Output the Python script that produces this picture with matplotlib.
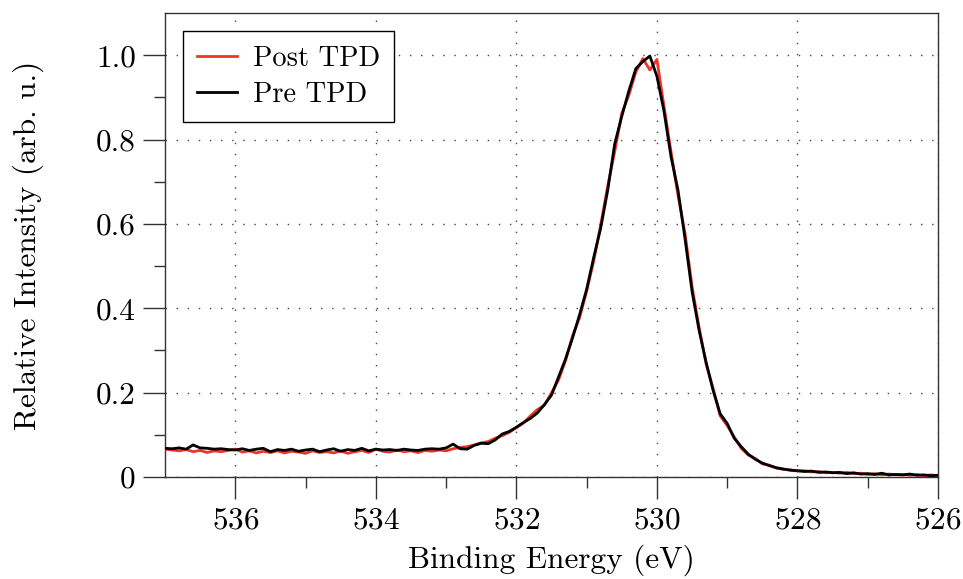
import numpy as np
import matplotlib
matplotlib.use("Agg")
import matplotlib.pyplot as plt
from matplotlib.ticker import FixedLocator, FixedFormatter

plt.rcParams['font.family'] = ['cmr10', 'DejaVu Serif']
plt.rcParams['axes.formatter.use_mathtext'] = True
plt.rcParams['mathtext.fontset'] = 'cm'

# Binding energy grid (eV), 537.0 -> 526.0 in 0.1 eV steps
energy = np.round(np.linspace(537.0, 526.0, 111), 2)

pre_tpd = [
    0.068, 0.067, 0.069, 0.066, 0.076, 0.069, 0.068, 0.066, 0.067, 0.065,
    0.064, 0.067, 0.063, 0.066, 0.068, 0.060, 0.065, 0.063, 0.066, 0.061,
    0.064, 0.066, 0.060, 0.064, 0.067, 0.061, 0.065, 0.063, 0.068, 0.062,
    0.066, 0.064, 0.065, 0.063, 0.066, 0.064, 0.063, 0.066, 0.067, 0.066,
    0.069, 0.078, 0.067, 0.066, 0.075, 0.080, 0.079, 0.088, 0.102, 0.108,
    0.118, 0.129, 0.139, 0.152, 0.172, 0.194, 0.237, 0.280, 0.330, 0.385,
    0.445, 0.520, 0.590, 0.680, 0.790, 0.855, 0.915, 0.968, 0.985, 0.998,
    0.950, 0.868, 0.760, 0.680, 0.565, 0.440, 0.348, 0.272, 0.205, 0.150,
    0.127, 0.092, 0.072, 0.054, 0.042, 0.033, 0.027, 0.022, 0.019, 0.016,
    0.015, 0.013, 0.014, 0.011, 0.012, 0.010, 0.011, 0.008, 0.010, 0.007,
    0.008, 0.006, 0.009, 0.005, 0.006, 0.005, 0.007, 0.004, 0.005, 0.003,
    0.004,
]

post_tpd = [
    0.066, 0.064, 0.062, 0.065, 0.060, 0.063, 0.058, 0.062, 0.060, 0.063,
    0.066, 0.059, 0.062, 0.057, 0.061, 0.058, 0.062, 0.057, 0.061, 0.059,
    0.056, 0.062, 0.058, 0.060, 0.057, 0.062, 0.056, 0.060, 0.063, 0.058,
    0.066, 0.061, 0.059, 0.064, 0.060, 0.062, 0.058, 0.063, 0.061, 0.064,
    0.062, 0.067, 0.070, 0.072, 0.076, 0.081, 0.084, 0.092, 0.098, 0.106,
    0.117, 0.128, 0.145, 0.160, 0.170, 0.200, 0.230, 0.276, 0.335, 0.378,
    0.440, 0.512, 0.598, 0.690, 0.772, 0.862, 0.905, 0.960, 0.992, 0.965,
    0.990, 0.880, 0.772, 0.668, 0.578, 0.452, 0.355, 0.268, 0.210, 0.145,
    0.122, 0.095, 0.068, 0.052, 0.044, 0.031, 0.028, 0.021, 0.018, 0.017,
    0.014, 0.015, 0.012, 0.013, 0.010, 0.011, 0.009, 0.011, 0.008, 0.009,
    0.006, 0.008, 0.005, 0.007, 0.005, 0.006, 0.004, 0.006, 0.003, 0.005,
    0.003,
]

x_ticks = [536, 534, 532, 530, 528, 526]
x_minor_ticks = [535, 533, 531, 529, 527]
y_ticks = [0.0, 0.2, 0.4, 0.6, 0.8, 1.0]
y_minor_ticks = [0.1, 0.3, 0.5, 0.7, 0.9]
y_tick_labels = ['0', '0.2', '0.4', '0.6', '0.8', '1.0']

fig = plt.figure(figsize=(9.63, 5.79), dpi=100)
ax = fig.add_axes([165/963, 1 - 477/579, (938-165)/963, (477-13)/579])

ax.plot(energy, post_tpd, color='#ee3528', lw=2.0, label='Post TPD', zorder=3)
ax.plot(energy, pre_tpd, color='black', lw=2.0, label='Pre TPD', zorder=4)

ax.set_xlim(537, 526)
ax.set_ylim(0, 1.1)

ax.xaxis.set_major_locator(FixedLocator(x_ticks))
ax.xaxis.set_minor_locator(FixedLocator(x_minor_ticks))
ax.yaxis.set_major_locator(FixedLocator(y_ticks))
ax.yaxis.set_major_formatter(FixedFormatter(y_tick_labels))
ax.yaxis.set_minor_locator(FixedLocator(y_minor_ticks))

ax.tick_params(which='major', direction='out', length=16, width=1.0,
               labelsize=22.5, color='#333333', pad=5)
ax.tick_params(which='minor', direction='out', length=8, width=1.0,
               color='#333333')

for s in ax.spines.values():
    s.set_linewidth(1.0)
    s.set_color('#333333')

ax.grid(True, which='major', linestyle=(0, (1, 7)), color='#444444', lw=1.0)
ax.set_axisbelow(True)

ax.set_xlabel('Binding Energy (eV)', fontsize=22.5)
ax.set_ylabel('Relative Intensity (arb. u.)', fontsize=22.5)
ax.xaxis.set_label_coords(0.5, -(544 - 477) / 464)
ax.yaxis.set_label_coords(-(165 - 44) / 773, 0.5)

leg = ax.legend(loc='upper left', bbox_to_anchor=(18/773, 1 - 18/464),
                borderaxespad=0, fontsize=20.5, fancybox=False, framealpha=1,
                edgecolor='black', handlelength=1.4, handletextpad=0.55,
                borderpad=0.5, labelspacing=0.35)
leg.get_frame().set_linewidth(1.0)

fig.savefig('out.png', dpi=100)
